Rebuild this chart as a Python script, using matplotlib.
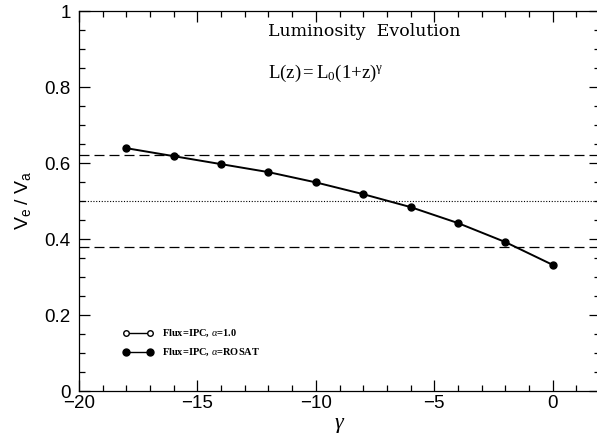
import matplotlib
matplotlib.use("Agg")
import matplotlib.pyplot as plt
from matplotlib.ticker import MultipleLocator
from matplotlib.lines import Line2D

# V_e/V_a versus luminosity-evolution index gamma
gamma = [-18, -16, -14, -12, -10, -8, -6, -4, -2, 0]
ve_va = [0.639, 0.618, 0.597, 0.576, 0.549, 0.518, 0.484, 0.442, 0.392, 0.332]

# reference levels: no-evolution value and its +/- bounds
upper_bound = 0.622
lower_bound = 0.378
no_evolution = 0.5

legend_labels = [r"Flux=IPC, $\alpha$=1.0", r"Flux=IPC, $\alpha$=ROSAT"]

plt.rcParams["mathtext.fontset"] = "custom"
plt.rcParams["mathtext.rm"] = "Liberation Serif"
plt.rcParams["mathtext.it"] = "Liberation Serif:italic"
plt.rcParams["mathtext.bf"] = "Liberation Serif:bold"
plt.rcParams["mathtext.sf"] = "Liberation Sans"

fig = plt.figure(figsize=(5.97, 4.40), dpi=100)
W, H = 597, 440
ax = fig.add_axes([79 / W, 49 / H, (600 - 79) / W, 380 / H])

ax.axhline(upper_bound, color="black", lw=0.9, ls=(0, (8, 4)))
ax.axhline(lower_bound, color="black", lw=0.9, ls=(0, (8, 4)))
ax.axhline(no_evolution, color="black", lw=0.8, ls=(0, (1, 1.5)))

ax.plot(gamma, ve_va, color="black", lw=1.4, marker="o", ms=5,
        mfc="black", mec="black")

ax.set_xlim(-20, 2)
ax.set_ylim(0, 1)
ax.xaxis.set_major_locator(MultipleLocator(5))
ax.xaxis.set_minor_locator(MultipleLocator(1))
ax.yaxis.set_major_locator(MultipleLocator(0.2))
ax.yaxis.set_minor_locator(MultipleLocator(0.05))
ax.tick_params(which="both", direction="in", top=True, right=True,
               width=0.9, labelsize=13.5)
ax.tick_params(axis="x", pad=3)
ax.tick_params(axis="y", pad=6)
ax.tick_params(which="major", length=8)
ax.tick_params(which="minor", length=4)
ax.set_yticks([0, 0.2, 0.4, 0.6, 0.8, 1.0])
ax.set_yticklabels(["0", "0.2", "0.4", "0.6", "0.8", "1"], family="Liberation Sans")
ax.set_xticks([-20, -15, -10, -5, 0])
ax.set_xticklabels(["\u221220", "\u221215", "\u221210", "\u22125", "0"], family="Liberation Sans")
for s in ax.spines.values():
    s.set_linewidth(0.9)

ax.set_xlabel(r"$\gamma$", fontsize=16, labelpad=2)
ax.set_ylabel(r"$\mathsf{V_e\ /\ V_a}$", fontsize=14, labelpad=8)

fig.text(268 / W, 1 - 31 / H, "Luminosity  Evolution", family="DejaVu Serif",
         fontsize=12.5, va="center", ha="left")
fig.text(268 / W, 1 - 73 / H, r"$\mathrm{L(z)}{=}\mathrm{L_0(1}{+}\mathrm{z)^{\gamma}}$",
         fontsize=13.5, va="center", ha="left")

# hand-placed legend
for i, (lab, filled) in enumerate(zip(legend_labels, [False, True])):
    y = 1 - (333 + 19 * i) / H
    fig.add_artist(Line2D([126 / W, 150 / W], [y, y], color="black", lw=1,
                          marker="o", ms=4 if not filled else 5,
                          mfc="white" if not filled else "black", mec="black",
                          transform=fig.transFigure))
    fig.text(162 / W, y, lab, family="Liberation Serif", weight="bold",
             fontsize=7.5, va="center", ha="left")

fig.savefig("out.png", dpi=100)
